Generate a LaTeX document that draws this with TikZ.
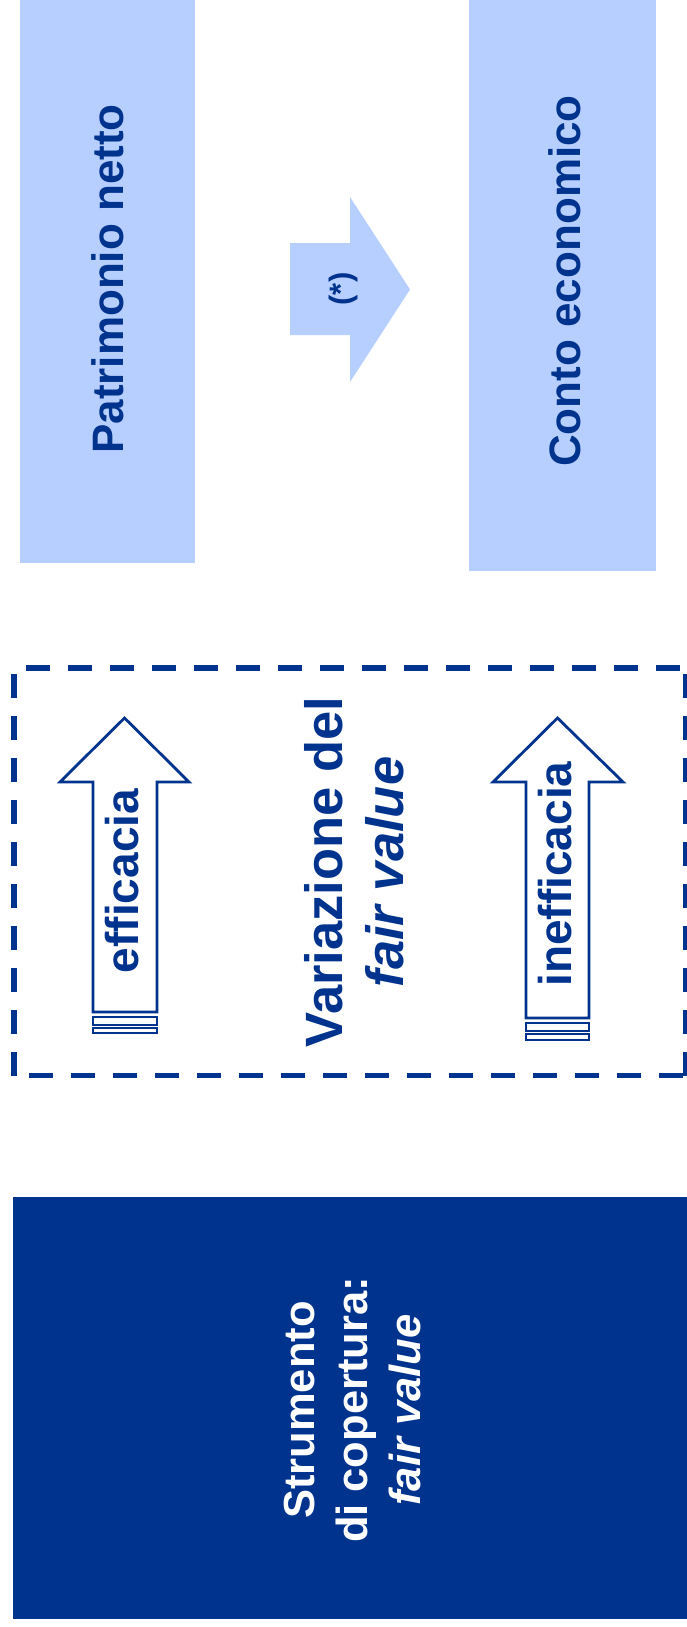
\documentclass[tikz,border=0pt]{standalone}
\usepackage{fontspec}
\setmainfont{Liberation Sans}
\definecolor{navy}{RGB}{0,51,141}
\definecolor{pale}{RGB}{183,207,255}

\begin{document}
\begin{tikzpicture}[x=1pt,y=-1pt,
  every node/.style={inner sep=0pt, outer sep=0pt},
  palebox/.style={fill=pale, draw=none, anchor=north west},
  darkbox/.style={fill=navy, draw=none, anchor=north west},
  vlabel/.style={rotate=90, align=center, text=navy, font=\bfseries\fontsize{44}{52}\selectfont},
  arrowlabel/.style={rotate=90, text=navy, font=\bfseries\fontsize{46}{52}\selectfont},
  hollowarrow/.style={draw=navy, fill=white, line width=2.8pt, line join=miter},
  footbar/.style={draw=navy, fill=white, line width=2.2pt},
  dashside/.style={draw=navy, line width=5.5pt, dash pattern=on 24pt off 18pt}]
\useasboundingbox (0,0) rectangle (687,1627);
\fill[white] (0,0) rectangle (687,1627);

% top boxes
\node[palebox, minimum width=175pt, minimum height=563pt] (pn) at (20,0) {};
\node[palebox, minimum width=187pt, minimum height=571pt] (ce) at (469,0) {};
\node[vlabel] (pntext) at (108,279) {Patrimonio netto};
\node[vlabel] (cetext) at (565,281) {Conto economico};

% block arrow between the two boxes
\fill[pale] (290,243) -- (350,243) -- (350,197) -- (410,289.5) -- (350,382) -- (350,335) -- (290,335) -- cycle;
\node[rotate=90, text=navy, font=\bfseries\fontsize{31}{34}\selectfont] (star) at (343.5,289) {(*)};

% dashed frame, one side at a time
\coordinate (tl) at (14,668);
\coordinate (tr) at (685.5,668);
\coordinate (br) at (685.5,1075.5);
\coordinate (bl) at (14,1075.5);
\draw[dashside, dash phase=30pt] (tl) -- (tr);
\draw[dashside, dash phase=36pt] (tl) -- (bl);
\draw[dashside, dash phase=39pt] (br) -- (bl);
\draw[dashside, dash phase=36pt] (tr) -- (br);

% efficacia arrow
\draw[hollowarrow] (93,1012) -- (93,782) -- (60,782) -- (124.5,718) -- (189,782) -- (157,782) -- (157,1012) -- cycle;
\draw[footbar] (93,1017) rectangle (157,1025);
\draw[footbar] (93,1028) rectangle (157,1033);
\node[arrowlabel] (eff) at (122,881) {efficacia};

% inefficacia arrow
\draw[hollowarrow] (526,1018) -- (526,782) -- (493,782) -- (557.5,718) -- (623,782) -- (589,782) -- (589,1018) -- cycle;
\draw[footbar] (526,1023) rectangle (589,1031);
\draw[footbar] (526,1034) rectangle (589,1040);
\node[arrowlabel] (ineff) at (555,874) {inefficacia};

% central caption
\node[rotate=90, align=center, text=navy, font=\bfseries\fontsize{52.5}{61}\selectfont] (var) at (354,872) {Variazione del\\\itshape fair value};

% hedging instrument box
\node[darkbox, minimum width=674pt, minimum height=422pt] (si) at (13,1197) {};
\node[rotate=90, align=center, text=white, font=\bfseries\fontsize{43.5}{53}\selectfont] (sitext) at (353,1410) {Strumento\\di copertura:\\\itshape fair value};
\end{tikzpicture}
\end{document}
